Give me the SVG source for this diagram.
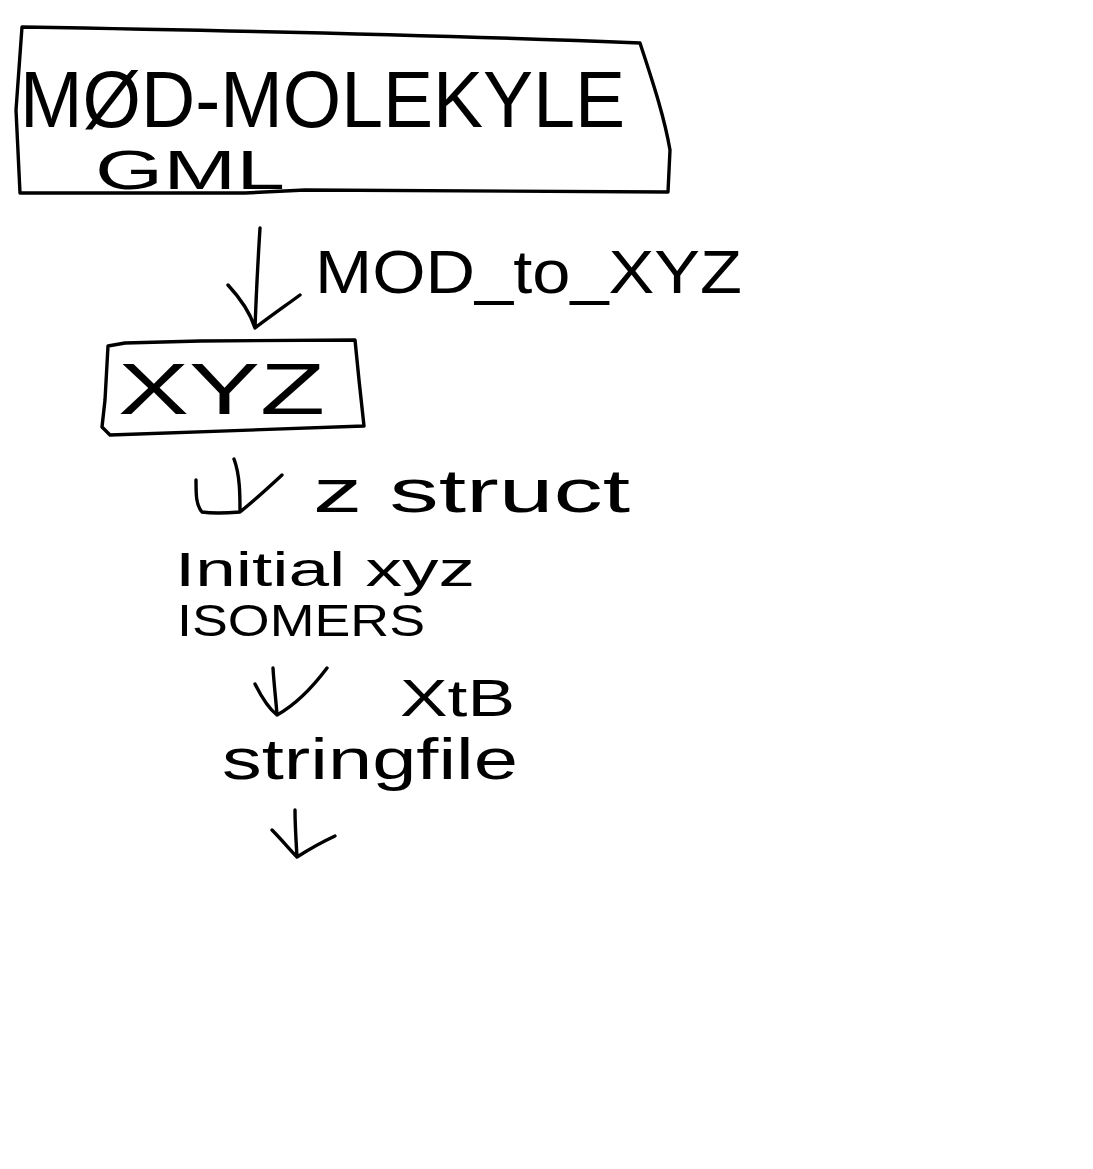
<svg xmlns="http://www.w3.org/2000/svg" width="1093" height="1169" viewBox="0 0 1093 1169">
<style>
.ln{fill:none;stroke:#000;stroke-width:3.4;stroke-linecap:round;stroke-linejoin:round}
text{font-family:"Liberation Sans","DejaVu Sans",sans-serif;fill:#000}
</style>
<rect width="1093" height="1169" fill="#fff"/>
<g id="node-mod">
<path class="ln" d="M22,27 C200,30 420,34 640,43 C652,80 664,115 670,150 L668,192 L305,190 L245,193 L20,193 L16,110 L22,27 Z"/>
<text x="20" y="127" font-size="80" textLength="605" lengthAdjust="spacingAndGlyphs">MØD-MOLEKYLE</text>
<text x="95" y="189" font-size="56" textLength="190" lengthAdjust="spacingAndGlyphs">GML</text>
</g>
<g id="node-xyz">
<path class="ln" d="M108,346 L125,343 L200,341 L355,340 L359,380 L364,426 L110,435 L102,427 L105,400 L108,346 Z"/>
<text x="118" y="414" font-size="72" textLength="207" lengthAdjust="spacingAndGlyphs">XYZ</text>
</g>
<g id="node-isomers">
<text x="175" y="586" font-size="48" textLength="300" lengthAdjust="spacingAndGlyphs">Initial xyz</text>
<text x="177" y="636" font-size="44" textLength="248" lengthAdjust="spacingAndGlyphs">ISOMERS</text>
</g>
<g id="node-stringfile">
<text x="222" y="779" font-size="58" textLength="296" lengthAdjust="spacingAndGlyphs">stringfile</text>
</g>
<g id="connectors">
<path class="ln" d="M260,228 C258,260 256,300 255,328 M228,285 C240,298 250,312 255,328 M300,295 C285,306 268,318 255,328"/>
<text x="315" y="293" font-size="62" textLength="427" lengthAdjust="spacingAndGlyphs">MOD_to_XYZ</text>
<path class="ln" d="M196,480 C196,495 196,505 202,512 C215,514 228,513 240,512 M234,459 C240,475 240,495 240,512 M282,475 C268,488 255,500 240,512"/>
<text x="313" y="512" font-size="62" textLength="317" lengthAdjust="spacingAndGlyphs">z struct</text>
<path class="ln" d="M273,668 C274,685 276,700 277,715 M255,684 C262,698 268,708 277,715 C295,705 312,688 327,668"/>
<text x="400" y="716" font-size="52" textLength="115" lengthAdjust="spacingAndGlyphs">XtB</text>
<path class="ln" d="M295,810 C295,825 296,840 297,857 M272,830 C282,840 290,850 297,857 M335,836 C322,842 308,850 297,857"/>
</g>
</svg>
